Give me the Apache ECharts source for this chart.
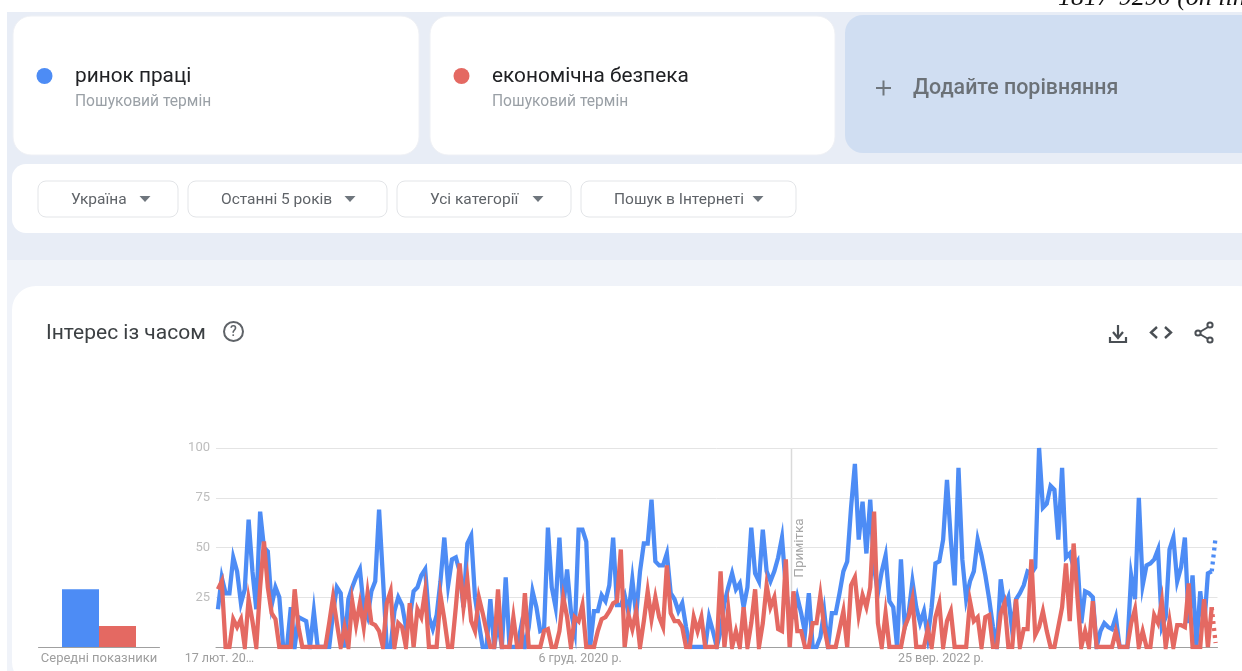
<!DOCTYPE html>
<html><head><meta charset="utf-8">
<style>html,body{margin:0;padding:0;background:#fff;overflow:hidden}#c{width:1242px;height:671px}</style>
<script src="https://cdn.jsdelivr.net/npm/echarts@6/dist/echarts.min.js"></script>
</head><body><div id="c"></div>
<script>
const termNames = ['ринок праці', 'економічна безпека'];
const averages = [29, 10.5];
const xTickLabels = {0: '17 лют. 20…', 94: '6 груд. 2020 р.', 188: '25 вер. 2022 р.'};
const labourMarket = [
19,35,27,27,45,38,22,29,64,38,
19,68,50,48,21,30,25,0,0,20,
0,15,14,13,0,18,0,0,0,0,
17,30,27,0,24,30,35,39,20,15,
28,33,69,35,0,0,18,25,21,10,
15,28,30,36,39,15,9,16,33,55,
31,44,45,38,20,52,56,25,12,0,
0,24,0,12,0,35,0,0,0,10,
0,10,28,20,8,9,60,30,20,55,
20,39,18,8,59,59,53,0,18,18,
26,23,31,55,21,21,26,17,34,16,
38,52,52,74,43,41,41,47,27,24,
18,22,10,0,0,0,0,0,15,8,
0,8,22,30,37,29,32,20,30,60,
37,33,59,38,33,38,45,55,30,15,
15,25,17,7,27,0,0,5,18,0,
17,17,27,38,43,70,92,54,73,47,
74,40,27,38,46,23,20,0,44,10,
17,33,20,12,18,5,20,42,43,54,
84,54,31,90,44,24,33,38,54,46,
36,24,10,0,34,20,25,8,24,27,
31,38,37,40,100,70,72,81,79,54,
90,45,47,40,43,12,28,27,25,0,
8,12,10,9,15,0,0,0,36,24,
75,31,41,42,44,49,10,15,49,55,
33,40,55,12,36,0,28,10,37,38,
55];
const economicSecurity = [
29,33,0,0,14,10,14,0,24,13,
0,30,53,30,17,14,0,0,0,0,
29,10,0,0,0,0,0,0,0,12,
25,12,0,10,0,23,11,22,10,27,
12,11,8,0,22,28,0,12,10,0,
22,0,19,15,28,0,0,0,26,14,
0,0,20,42,20,34,13,8,25,17,
8,0,0,29,0,0,0,15,0,0,
27,0,0,0,0,8,9,0,0,8,
25,15,0,15,13,21,0,0,0,8,
14,15,18,22,23,49,0,16,9,18,
0,13,28,14,25,15,10,41,17,13,
13,10,0,0,15,8,15,0,0,0,
0,38,0,19,0,8,0,20,0,12,
29,0,12,31,20,25,9,8,44,0,
28,8,8,0,0,12,12,26,10,0,
0,0,9,18,0,31,35,16,26,20,
30,68,12,0,17,0,0,0,0,10,
15,24,0,0,0,9,0,15,22,0,
13,18,0,0,0,0,23,13,15,0,
15,16,0,0,17,22,0,0,24,0,
9,9,44,6,10,18,8,0,0,10,
20,42,13,52,25,0,8,0,23,0,
0,0,0,0,8,0,0,0,12,19,
0,8,0,0,16,12,23,0,13,0,
11,11,10,32,0,0,0,24,0,20,
2];
const weeks = labourMarket.map((_, i) => String(i));
const BLUE = '#4d8cf5', RED = '#e46962';
const FONT = 'Roboto, sans-serif';

function solid(a){ return a.map((v,i)=> i < a.length-1 ? v : null); }
function dotted(a){ return a.map((v,i)=> i >= a.length-2 ? v : null); }
function rect(x,y,w,h,fill,r,stroke){ return {type:'rect',silent:true,shape:{x,y,width:w,height:h,r:r||0},style:{fill,stroke:stroke||null,lineWidth:stroke?1:0}}; }
function text(x,y,t,size,fill,extra){ return Object.assign({type:'text',silent:true,x,y,style:Object.assign({text:t,font:size+'px '+FONT,fill,textVerticalAlign:'middle',textAlign:'left'},extra||{})}); }
function poly(points,fill){ return {type:'polygon',silent:true,shape:{points},style:{fill}}; }
function line(x1,y1,x2,y2,stroke,lw){ return {type:'line',silent:true,shape:{x1,y1,x2,y2},style:{stroke,lineWidth:lw||1}}; }
function pline(points,stroke,lw){ return {type:'polyline',silent:true,shape:{points},style:{stroke,lineWidth:lw,fill:null}}; }
function circle(cx,cy,r,fill,stroke,lw){ return {type:'circle',silent:true,shape:{cx,cy,r},style:{fill:fill||null,stroke:stroke||null,lineWidth:lw||0}}; }

const pills = [[38,140,'Україна',71,145],[188,199,'Останні 5 років',221,350],[397,174,'Усі категорії',430,538],[581,215,'Пошук в Інтернеті',614,758]];
const ICON = '#4a4f54';
const ui = [
  rect(7,12,1235,248,'#e8edf6'),
  rect(7,260,1235,411,'#f0f3f9'),
  rect(13,16,406,139,'#fff',18,'#eef0f5'),
  rect(430,16,405,139,'#fff',18,'#eef0f5'),
  rect(845,15,420,138,'#d0def2',18),
  rect(12,164,1250,69,'#fff',14),
  rect(12,286,1250,400,'#fff',24),
  circle(44.5,76,8,BLUE), circle(461.5,76,8,RED),
  text(75,77,termNames[0],20.8,'#202124'),
  text(492,77,termNames[1],20.8,'#202124'),
  text(75,102,'Пошуковий термін',15.6,'#9aa0a6'),
  text(492,102,'Пошуковий термін',15.6,'#9aa0a6'),
  line(876,88,891,88,'#6f767d',2), line(883.5,80.5,883.5,95.5,'#6f767d',2),
  text(913,89,'Додайте порівняння',21.4,'#6b7177',{font:'500 21.4px '+FONT}),
  text(1058,-2,'1817-9290 (on lin',26,'#111',{font:'italic 26px "Liberation Serif", serif'}),
  text(46,334,'Інтерес із часом',21,'#3c4043'),
  circle(233.5,331.5,9.5,null,'#5f6368',2),
  text(233.5,332,'?',14,'#5f6368',{textAlign:'center',font:'500 14px '+FONT}),
  line(1118,325,1118,337,ICON,2.2), pline([[1113,332],[1118,338],[1123,332]],ICON,2.2),
  pline([[1110,337],[1110,342],[1126,342],[1126,337]],ICON,2.2),
  pline([[1157,327],[1151,332.5],[1157,338]],ICON,2.4), pline([[1165,327],[1171,332.5],[1165,338]],ICON,2.4),
  line(1198,333,1210,326,ICON,2), line(1198,333,1210,340,ICON,2),
  circle(1198,333,2.6,'#fff',ICON,2), circle(1210,325,2.6,'#fff',ICON,2), circle(1210,340,2.6,'#fff',ICON,2),
  line(791.5,448,791.5,647,'#dadada',1.5),
  {type:'text',silent:true,x:800,y:548,rotation:Math.PI/2,style:{text:'Примітка',font:'13.5px '+FONT,fill:'#a6a6a6',textAlign:'center',textVerticalAlign:'middle'}}
];
pills.forEach(p=>{
  ui.push(rect(p[0],181,p[1],36,'#fff',8,'#e3e5e8'));
  ui.push(text(p[3],200,p[2],15.5,'#5f6368'));
  ui.push(poly([[p[4]-5.5,196],[p[4]+5.5,196],[p[4],202]],'#6f767d'));
});

const chart = echarts.init(document.getElementById('c'), null, {width:1242,height:671});
chart.setOption({
  animation:false,
  backgroundColor:'#fff',
  textStyle:{fontFamily:FONT},
  graphic:{elements:[{type:'group',z:-1,silent:true,children:ui}]},
  grid:[
    {left:38.5,top:448,width:121,height:199},
    {left:216,top:448,width:1001.5,height:199}
  ],
  xAxis:[
    {type:'category',gridIndex:0,data:['Середні показники'],axisTick:{show:false},
     axisLine:{lineStyle:{color:'#a0a0a0',width:1}},
     axisLabel:{color:'#9e9e9e',fontSize:13,margin:5}},
    {type:'category',gridIndex:1,data:weeks,axisTick:{show:false},
     axisLine:{lineStyle:{color:'#a0a0a0',width:1}},
     axisLabel:{color:'#9e9e9e',fontSize:12.5,margin:5,padding:[0,0,0,3],hideOverlap:false,showMinLabel:true,
       interval:(i)=> xTickLabels[i]!==undefined,
       formatter:(v)=> xTickLabels[+v]||''}}
  ],
  yAxis:[
    {type:'value',gridIndex:0,min:0,max:100,show:false,splitLine:{show:false}},
    {type:'value',gridIndex:1,min:0,max:100,interval:25,
     axisLine:{show:false},axisTick:{show:false},
     axisLabel:{color:'#bdbdbd',fontSize:13,margin:6,padding:[3,0,0,0],formatter:(v)=> v===0?'':String(v)},
     splitLine:{lineStyle:{color:'#e4e4e4',width:1}}}
  ],
  series:[
    {type:'bar',xAxisIndex:0,yAxisIndex:0,data:[averages[0]],barWidth:37,barGap:0,itemStyle:{color:BLUE},silent:true},
    {type:'bar',xAxisIndex:0,yAxisIndex:0,data:[averages[1]],barWidth:37,barGap:0,itemStyle:{color:RED},silent:true},
    {type:'line',xAxisIndex:1,yAxisIndex:1,data:solid(labourMarket),showSymbol:false,symbol:'none',silent:true,lineStyle:{color:BLUE,width:4.3,join:'miter'}},
    {type:'line',xAxisIndex:1,yAxisIndex:1,data:dotted(labourMarket),showSymbol:false,symbol:'none',silent:true,lineStyle:{color:BLUE,width:4.3,type:[3,4]}},
    {type:'line',xAxisIndex:1,yAxisIndex:1,data:solid(economicSecurity),showSymbol:false,symbol:'none',silent:true,lineStyle:{color:RED,width:4.3,join:'miter'}},
    {type:'line',xAxisIndex:1,yAxisIndex:1,data:dotted(economicSecurity),showSymbol:false,symbol:'none',silent:true,lineStyle:{color:RED,width:4.3,type:[3,4]}}
  ]
});
</script></body></html>
